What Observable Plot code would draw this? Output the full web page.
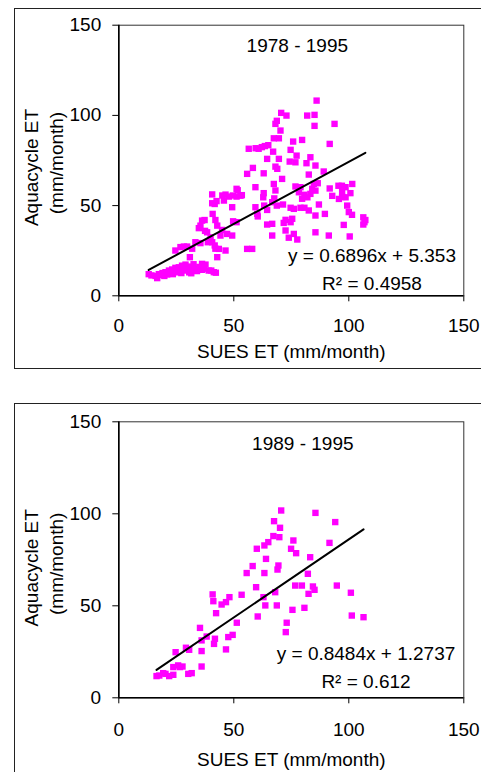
<!DOCTYPE html>
<html><head><meta charset="utf-8">
<script src="https://cdn.jsdelivr.net/npm/d3@7"></script>
<script src="https://cdn.jsdelivr.net/npm/@observablehq/plot@0.6"></script>
<style>
html,body{margin:0;padding:0;background:#fff;overflow:hidden;width:481px;height:772px;position:relative;}
.panel{position:absolute;left:0;width:481px;}
.box{position:absolute;left:14px;width:520px;border:1.6px solid #222;box-sizing:border-box;pointer-events:none;}
</style></head><body>
<div id="p1" class="panel" style="top:0"></div>
<div id="p2" class="panel" style="top:390px"></div>
<div class="box" style="top:8px;height:361px"></div>
<div class="box" style="top:403px;height:420px"></div>
<script>
// ---- data ----
const axisTicks = [0, 50, 100, 150];
const axisDomain = [0, 150];
const xTitle = "SUES ET (mm/month)";
const yTitle1 = "Aquacycle ET";
const yTitle2 = "(mm/month)";

const period1 = "1978 - 1995";
const slope1 = 0.6896, intercept1 = 5.353;
const eq1 = "y = 0.6896x + 5.353";
const r2Label1 = "R² = 0.4958";
const sues1 = [13,14.2,16.7,16,17.4,18.5,19,19.8,20.3,21,21.8,22.3,23.2,23.5,24.6,25,26.1,26.1,27.2,27.5,28.3,29,29.6,30.4,30.6,31.5,31.9,32.5,33.3,34,35,36.2,36.2,37,37.7,39.1,40.2,41.3,42.2,
 24.6,26.8,28.3,29.7,30.9,31.9,33.3,35.5,35.5,36.2,34.8,37.3,38.4,38.7,39.9,40.6,41.7,42,42.8,40.8,42,42.8,44.2,43.5,40.6,40.6,41.7,42.5,45,46.4,45.7,47.9,49.6,49.3,47.1,49.3,49.7,46.4,51.2,51.7,51.2,52.9,51.2,53.5,37.5,44.9,
 55.8,56.5,55.8,58,58.3,59.4,59.5,60.8,62.2,63.5,65,59.4,60.2,60.4,63,63,62.8,63.2,64.5,64.5,64.5,66.7,66.7,66.7,67.1,67.4,67.4,68.1,67.6,68.7,68.1,68.7,69.6,70.3,70.6,72.9,71,68.9,68.1,69.6,
 74.3,74.7,75.8,76.8,77.3,79.7,81.9,85.1,86,85.1,93.8,91.7,83.3,81.6,85.5,82.6,89.1,76.8,79,84.8,86.5,91.7,95.5,97,98.6,101.5,97.1,100.7,98.6,97.1,95.7,92.8,84.1,85.5,78.3,80.7,82,83.3,79.7,
 71.4,74.7,76.1,79,80.7,82.6,87,85.5,89.6,99.3,100,101.4,72.5,71.7,75.4,74.7,72.5,73.9,76.1,77.6,85.5,91.3,100.4,97.8,106.3,106.8,106.3,107.2];
const aqua1 = [12,11.3,9.8,11,12,11.5,12.6,11,13.1,11.8,14,12.5,14.6,12,15.5,13.5,15.8,13,12.6,16.7,14,17.3,15,16.2,13,12.5,14.2,17.5,14.9,13.7,16,17.7,14.4,15,17.3,14,14,13.1,12.8,
 25.1,27,27.3,27.3,21.4,26.1,29.7,29.2,38.9,41.7,37.5,42,35.2,29.7,32.4,29.7,27.9,26.1,21.4,45.4,42,38.9,33.4,26,56.2,51.3,50.9,52.5,55.6,56.1,52.8,55,55.6,49.1,34.3,33.4,41.3,25.1,59.3,58.5,55,55.5,40.8,55.8,36,36.5,
 67.6,81.5,26,26,70.9,60.2,81.8,81.5,82.4,83,83.5,49.1,45.4,44,67.9,56.9,54.6,50,75.9,47.6,39.5,39.9,51.9,33.4,79.9,87.3,62,58.4,54,50,95.3,97,87.3,91.6,101.4,99.9,64.8,70.4,71.6,75.9,
 74.4,80.9,85.5,74,77.7,86.4,99.9,100.3,108.2,94.2,95.3,84.2,76.8,73.5,72.2,67.2,68.9,60.6,60.2,62,62.4,59.5,61,61,60.2,62,57.6,56.9,54.6,54.8,53.7,55.4,59.3,58.3,57.4,56,54.6,56.5,53.8,
 50.6,48.8,48.2,48.8,48.8,47.3,50.6,44.5,45.4,50,46.4,44.9,42.1,40.4,42.7,40.8,36.2,32.2,34.3,31.2,35.2,33.4,32.9,39.3,43.5,40.8,39.5,42];

const period2 = "1989 - 1995";
const slope2 = 0.8484, intercept2 = 1.2737;
const eq2 = "y = 0.8484x + 1.2737";
const r2Label2 = "R² = 0.612";
const sues2 = [16.4,17.6,19.3,20.3,21.9,23.7,23.7,24.7,25.8,26.6,27.7,29.2,30.6,30.2,31.7,35.3,36,36,36,38.2,40.8,41.1,41.4,41.8,42.3,44.7,46.6,48.1,46.6,47.6,49.5,51.3,53.4,55.6,58.2,59.7,60,60.4,62.9,63.3,63.3,63.7,64,65,67.5,67.2,68,68.7,69,69.4,69.8,70.1,70.6,72.6,73,74.9,75.5,75.9,76.7,77.1,79.6,80.7,82.2,82.5,83.2,84.4,85.1,85.5,91.6,94.1,94.8,100.9,101.3,106.4];
const aqua2 = [11.8,12.1,13.4,13,11.8,12.5,16.7,24.8,17.6,16.7,17,27.2,26.1,13,13.4,38,31.2,25.4,17,33.3,56.2,52.5,29.3,32.1,46,50.7,52,54.7,26.3,33,34.2,40.8,56,67.8,71.6,60.1,81,44.2,54.7,67.8,82.8,50.2,75.5,84.6,96,87.9,57.4,50.2,69.7,71.9,87.3,92.4,101.8,35.7,40.8,81,47.8,85.5,61,78.6,61,48.9,67.4,56.5,76.4,60.5,58.7,100.5,84.2,95.5,61,57.1,44.7,43.8];

// ---- drawing ----
function panel(cfg) {
  const pts = cfg.sues.map((x, i) => ({x, y: cfg.aqua[i]}));
  const ext = d3.extent(cfg.sues);
  const fit = ext.map(x => ({x, y: cfg.slope * x + cfg.intercept}));
  const fs = 19;
  const yMid = d3.mean(axisDomain);
  return Plot.plot({
    width: 481,
    height: cfg.height,
    marginLeft: 118.3,
    marginRight: 17.7,
    marginTop: cfg.marginTop,
    marginBottom: cfg.marginBottom,
    style: {fontFamily: "'Liberation Sans', Arial, sans-serif", fontSize: fs + "px", color: "#000", background: "transparent", overflow: "visible"},
    x: {domain: axisDomain, ticks: axisTicks, tickSize: 6, tickPadding: cfg.xPad, label: null},
    y: {domain: axisDomain, ticks: axisTicks, tickSize: 6, tickPadding: 11.6, label: null},
    marks: [
      Plot.frame({stroke: "#333", strokeWidth: 1}),
      Plot.dot(pts, {x: "x", y: "y", symbol: "square", r: 3.6, fill: "#ff00ff", stroke: "none"}),
      Plot.line(fit, {x: "x", y: "y", stroke: "#000", strokeWidth: 2}),
      Plot.ruleX([0], {stroke: "#000", strokeWidth: 1.6}),
      Plot.ruleY([0], {stroke: "#000", strokeWidth: 1.6}),
      Plot.text([cfg.period], {frameAnchor: "top", textAnchor: "middle", lineAnchor: "top", dx: cfg.periodDx, dy: cfg.periodDy, fontSize: fs}),
      Plot.text([cfg.eq], {frameAnchor: "bottom-right", textAnchor: "middle", lineAnchor: "bottom", dx: cfg.eqDx, dy: cfg.eqDy, fontSize: fs}),
      Plot.text([cfg.r2], {frameAnchor: "bottom-right", textAnchor: "middle", lineAnchor: "bottom", dx: cfg.eqDx, dy: cfg.r2Dy, fontSize: fs}),
      Plot.text([xTitle], {frameAnchor: "bottom", textAnchor: "middle", lineAnchor: "bottom", dy: cfg.xTitleDy, fontSize: fs}),
      Plot.text([{t: yTitle1, x: axisDomain[0], y: yMid}], {x: "x", y: "y", text: "t", textAnchor: "middle", rotate: -90, lineAnchor: "middle", dx: -87.3, dy: cfg.yDy1, fontSize: fs}),
      Plot.text([{t: yTitle2, x: axisDomain[0], y: yMid}], {x: "x", y: "y", text: "t", textAnchor: "middle", rotate: -90, lineAnchor: "middle", dx: -62.3, dy: cfg.yDy2, fontSize: fs})
    ]
  });
}

document.getElementById("p1").append(panel({
  sues: sues1, aqua: aqua1, slope: slope1, intercept: intercept1,
  period: period1, eq: eq1, r2: r2Label1,
  height: 380, marginTop: 24.7, marginBottom: 84.7, xPad: 16.7,
  periodDx: 6, periodDy: 13.6, eqDx: -91.8, eqDy: -33.6, r2Dy: -6,
  xTitleDy: 62, yDy1: 7, yDy2: 2.5
}));
document.getElementById("p2").append(panel({
  sues: sues2, aqua: aqua2, slope: slope2, intercept: intercept2,
  period: period2, eq: eq2, r2: r2Label2,
  height: 382, marginTop: 31.3, marginBottom: 74.7, xPad: 18.4,
  periodDx: 11.5, periodDy: 14.4, eqDx: -97.8, eqDy: -38, r2Dy: -9.6,
  xTitleDy: 67.7, yDy1: 8, yDy2: 4
}));
</script>
</body></html>
